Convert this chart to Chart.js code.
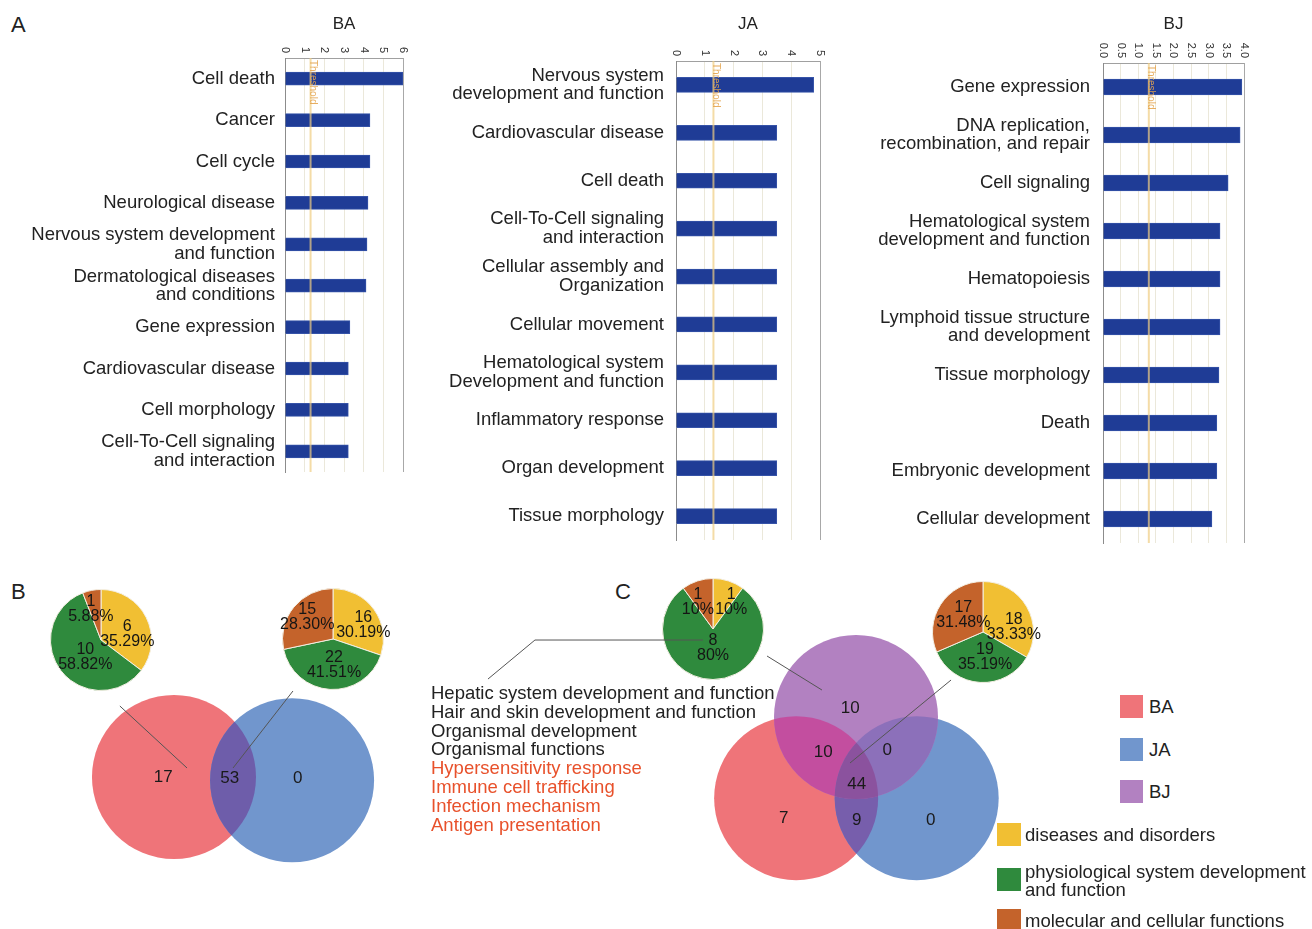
<!DOCTYPE html>
<html>
<head>
<meta charset="utf-8">
<script src="https://cdn.jsdelivr.net/npm/chart.js@4.4.0/dist/chart.umd.min.js"></script>
<style>
  body { margin: 0; background: #fff; font-family: 'Liberation Sans', Arial, sans-serif; color: #222; }
  #page { position: relative; width: 1312px; height: 929px; overflow: hidden; }
  canvas { position: absolute; }
  .letter { position: absolute; font-size: 22px; line-height: 22px; }
  .list { position: absolute; left: 431px; top: 684px; font-size: 18.5px; line-height: 18.8px; white-space: nowrap; }
  .leg { position: absolute; display: flex; align-items: flex-start; font-size: 18.5px; line-height: 18px; white-space: nowrap; }
  .sw { display: inline-block; width: 23px; height: 23px; margin-right: 6px; flex: none; }
</style>
</head>
<body>
<div id="page">
  <div class="letter" style="left:11px;top:14px">A</div>
  <div class="letter" style="left:11px;top:581px">B</div>
  <div class="letter" style="left:615px;top:581px">C</div>

  <canvas id="ba" width="430" height="490" style="left:0;top:0"></canvas>
  <canvas id="ja" width="420" height="560" style="left:430px;top:0"></canvas>
  <canvas id="bj" width="462" height="560" style="left:850px;top:0"></canvas>

  <canvas id="pieB1" width="160" height="120" style="left:21px;top:580px"></canvas>
  <canvas id="pieB2" width="160" height="120" style="left:253px;top:579px"></canvas>
  <canvas id="pieC1" width="160" height="120" style="left:633px;top:569px"></canvas>
  <canvas id="pieC2" width="160" height="120" style="left:903px;top:572px"></canvas>

  <canvas id="vennB" width="310" height="195" style="left:80px;top:685px"></canvas>
  <canvas id="vennC" width="600" height="330" style="left:420px;top:570px"></canvas>

  <div class="list" id="list"></div>
  <div id="legend"></div>
</div>

<script>
const FONT = "'Liberation Sans', Arial, sans-serif";

// Panel A: enrichment scores (-log p) per category
const baLabels = ['Cell death', 'Cancer', 'Cell cycle', 'Neurological disease',
  ['Nervous system development', 'and function'], ['Dermatological diseases', 'and conditions'],
  'Gene expression', 'Cardiovascular disease', 'Cell morphology', ['Cell-To-Cell signaling', 'and interaction']];
const baValues = [6.0, 4.32, 4.32, 4.22, 4.17, 4.12, 3.3, 3.22, 3.22, 3.22];

const jaLabels = [['Nervous system', 'development and function'], 'Cardiovascular disease', 'Cell death',
  ['Cell-To-Cell signaling', 'and interaction'], ['Cellular assembly and', 'Organization'], 'Cellular movement',
  ['Hematological system', 'Development and function'], 'Inflammatory response', 'Organ development', 'Tissue morphology'];
const jaValues = [4.78, 3.5, 3.5, 3.5, 3.5, 3.5, 3.5, 3.5, 3.5, 3.5];

const bjLabels = ['Gene expression', ['DNA replication,', 'recombination, and repair'], 'Cell signaling',
  ['Hematological system', 'development and function'], 'Hematopoiesis', ['Lymphoid tissue structure', 'and development'],
  'Tissue morphology', 'Death', 'Embryonic development', 'Cellular development'];
const bjValues = [3.94, 3.89, 3.55, 3.32, 3.32, 3.32, 3.29, 3.23, 3.23, 3.09];

const threshold = 1.3;

// Panels B and C: category pies
const pieCategories = ['diseases and disorders', 'physiological system development and function', 'molecular and cellular functions'];
const pieColors = ['#f1bf33', '#2f8a3d', '#c4632b'];
const pieB1 = [6, 10, 1];
const pieB2 = [16, 22, 15];
const pieC1 = [1, 8, 1];
const pieC2 = [18, 19, 17];

// Venn counts
const vennSets = ['BA', 'JA', 'BJ'];
const vennColors = ['#ef7479', '#7196cd', '#b281c1'];
const vennBCounts = [17, 53, 0];
const vennCCounts = [10, 10, 0, 44, 7, 9, 0];

const listItems = ['Hepatic system development and function', 'Hair and skin development and function',
  'Organismal development', 'Organismal functions', 'Hypersensitivity response', 'Immune cell trafficking',
  'Infection mechanism', 'Antigen presentation'];
const listHighlighted = [false, false, false, false, true, true, true, true];

// ---------- bar charts ----------
const barDecor = {
  id: 'barDecor',
  afterDatasetsDraw(chart) {
    const { ctx, chartArea: a, scales: { x } } = chart;
    const tx = x.getPixelForValue(threshold);
    ctx.save();
    ctx.strokeStyle = 'rgba(240, 205, 130, 0.7)';
    ctx.lineWidth = 2;
    ctx.beginPath();
    ctx.moveTo(tx, a.top);
    ctx.lineTo(tx, a.bottom);
    ctx.stroke();
    ctx.translate(tx, a.top + 2);
    ctx.rotate(Math.PI / 2);
    ctx.fillStyle = 'rgba(228, 165, 80, 0.9)';
    ctx.font = '10px ' + FONT;
    ctx.textAlign = 'left';
    ctx.textBaseline = 'middle';
    ctx.fillText('Threshold', 0, -2);
    ctx.restore();
  },
  afterDraw(chart, args, o) {
    const { ctx, chartArea: a, scales: { x } } = chart;
    ctx.save();
    // right frame line
    ctx.strokeStyle = '#a8a8a8';
    ctx.lineWidth = 1;
    ctx.beginPath();
    ctx.moveTo(Math.round(a.right) + 0.5, a.top);
    ctx.lineTo(Math.round(a.right) + 0.5, a.bottom);
    ctx.stroke();
    // title
    ctx.fillStyle = '#222';
    ctx.font = '17px ' + FONT;
    ctx.textAlign = 'center';
    ctx.textBaseline = 'middle';
    ctx.fillText(o.title, (a.left + a.right) / 2, o.titleY);
    // rotated tick labels, reading top to bottom
    ctx.font = '11px ' + FONT;
    ctx.fillStyle = '#333';
    x.ticks.forEach(t => {
      const px = x.getPixelForValue(t.value);
      ctx.save();
      ctx.translate(px, a.top - 5);
      ctx.rotate(Math.PI / 2);
      ctx.textAlign = 'right';
      ctx.textBaseline = 'middle';
      ctx.fillText(t.value.toFixed(o.decimals), 0, 0);
      ctx.restore();
    });
    ctx.restore();
  }
};

function barChart(id, title, labels, values, g) {
  return new Chart(document.getElementById(id), {
    type: 'bar',
    data: {
      labels: labels,
      datasets: [{
        data: values,
        backgroundColor: '#1f3c96',
        borderColor: '#3653a8',
        borderWidth: 1,
        barThickness: g.bar
      }]
    },
    options: {
      indexAxis: 'y',
      responsive: false,
      animation: false,
      layout: { padding: { top: 0, left: 0, right: g.right, bottom: g.bottom } },
      plugins: {
        legend: { display: false },
        tooltip: { enabled: false },
        barDecor: { title: title, titleY: 24, decimals: g.decimals }
      },
      scales: {
        x: {
          position: 'top',
          min: 0,
          max: g.max,
          ticks: { display: false, stepSize: g.step },
          grid: { color: '#ebe8da', drawTicks: false },
          border: { color: '#a0a0a0' },
          afterFit: s => { s.height = g.top; s.paddingLeft = 0; s.paddingRight = 0; }
        },
        y: {
          ticks: { font: { family: FONT, size: 18.5, lineHeight: 1 }, color: '#222', padding: g.gap, autoSkip: false },
          grid: { display: false, drawTicks: false },
          border: { color: '#8c8c8c' },
          afterFit: s => { s.width = g.left; s.paddingTop = 0; s.paddingBottom = 0; }
        }
      }
    },
    plugins: [barDecor]
  });
}

barChart('ba', 'BA', baLabels, baValues, { left: 285, top: 58, right: 27, bottom: 18, bar: 13, max: 6, step: 1, decimals: 0, gap: 10 });
barChart('ja', 'JA', jaLabels, jaValues, { left: 246, top: 61, right: 30, bottom: 20, bar: 15, max: 5, step: 1, decimals: 0, gap: 12 });
barChart('bj', 'BJ', bjLabels, bjValues, { left: 253, top: 63, right: 68, bottom: 17, bar: 16, max: 4, step: 0.5, decimals: 1, gap: 13 });

// ---------- pies ----------
// label anchors relative to the pie centre, in units of the radius
const pieLabels = {
  id: 'pieLabels',
  afterDatasetsDraw(chart, args, o) {
    const ctx = chart.ctx;
    const data = chart.data.datasets[0].data;
    const total = data.reduce((s, v) => s + v, 0);
    ctx.save();
    ctx.font = '16px ' + FONT;
    ctx.fillStyle = '#151515';
    ctx.textAlign = 'center';
    ctx.textBaseline = 'middle';
    chart.getDatasetMeta(0).data.forEach((arc, i) => {
      const p = arc.getProps(['x', 'y', 'outerRadius'], true);
      const cx = p.x + o.offsets[i][0] * p.outerRadius;
      const cy = p.y + o.offsets[i][1] * p.outerRadius;
      const pct = Math.round(data[i] / total * 10000) / 100;
      const txt = (pct % 1 === 0 ? pct.toFixed(0) : pct.toFixed(2)) + '%';
      ctx.fillText(String(data[i]), cx, cy - 7.5);
      ctx.fillText(txt, cx, cy + 7.5);
    });
    ctx.restore();
  }
};

function pieChart(id, counts, offsets) {
  return new Chart(document.getElementById(id), {
    type: 'pie',
    data: {
      labels: pieCategories,
      datasets: [{ data: counts, backgroundColor: pieColors, borderColor: '#f3eee2', borderWidth: 1 }]
    },
    options: {
      responsive: false,
      animation: false,
      layout: { padding: { left: 29, right: 29, top: 9, bottom: 9 } },
      plugins: { legend: { display: false }, tooltip: { enabled: false }, pieLabels: { offsets: offsets } }
    },
    plugins: [pieLabels]
  });
}

pieChart('pieB1', pieB1, [[0.52, -0.11], [-0.31, 0.34], [-0.2, -0.62]]);
pieChart('pieB2', pieB2, [[0.6, -0.27], [0.02, 0.51], [-0.51, -0.43]]);
pieChart('pieC1', pieC1, [[0.36, -0.54], [0, 0.38], [-0.3, -0.54]]);
pieChart('pieC2', pieC2, [[0.61, -0.1], [0.04, 0.49], [-0.39, -0.33]]);

// ---------- venn diagrams (units = one circle radius) ----------
const vennDraw = {
  id: 'vennDraw',
  afterDatasetsDraw(chart, args, o) {
    const { ctx, scales: { x, y } } = chart;
    const px = p => [x.getPixelForValue(p[0]), y.getPixelForValue(p[1])];
    const rad = x.getPixelForValue(1) - x.getPixelForValue(0);
    const circle = c => {
      const [cx, cy] = px(c);
      ctx.beginPath();
      ctx.arc(cx, cy, rad, 0, Math.PI * 2);
    };
    ctx.save();
    o.centers.forEach((c, i) => {
      circle(c);
      ctx.fillStyle = o.colors[i];
      ctx.fill();
    });
    o.overlaps.forEach(ov => {
      ctx.save();
      ov.sets.slice(0, -1).forEach(k => { circle(o.centers[k]); ctx.clip(); });
      circle(o.centers[ov.sets[ov.sets.length - 1]]);
      ctx.fillStyle = ov.color;
      ctx.fill();
      ctx.restore();
    });
    ctx.strokeStyle = '#555';
    ctx.lineWidth = 1;
    o.lines.forEach(line => {
      ctx.beginPath();
      line.forEach((p, i) => {
        const [lx, ly] = px(p);
        if (i === 0) ctx.moveTo(lx, ly); else ctx.lineTo(lx, ly);
      });
      ctx.stroke();
    });
    ctx.font = '17px ' + FONT;
    ctx.fillStyle = '#1a1a1a';
    ctx.textAlign = 'center';
    ctx.textBaseline = 'middle';
    chart.getDatasetMeta(0).data.forEach((pt, i) => {
      ctx.fillText(String(o.counts[i]), pt.x, pt.y);
    });
    ctx.restore();
  }
};

function vennChart(id, counts, lay) {
  return new Chart(document.getElementById(id), {
    type: 'scatter',
    data: { datasets: [{ data: lay.anchors.map(p => ({ x: p[0], y: p[1] })), pointRadius: 0 }] },
    options: {
      responsive: false,
      animation: false,
      layout: { padding: 0 },
      plugins: {
        legend: { display: false },
        tooltip: { enabled: false },
        vennDraw: { centers: lay.centers, colors: lay.colors, overlaps: lay.overlaps, lines: lay.lines, counts: counts }
      },
      scales: {
        x: { display: false, min: lay.xr[0], max: lay.xr[1] },
        y: { display: false, min: lay.yr[0], max: lay.yr[1] }
      }
    },
    plugins: [vennDraw]
  });
}

vennChart('vennB', vennBCounts, {
  xr: [-1.146, 2.634], yr: [-1.256, 1.122],
  centers: [[0, 0], [1.44, -0.04]],
  colors: [vennColors[0], vennColors[1]],
  overlaps: [{ sets: [0, 1], color: '#6e5daa' }],
  anchors: [[-0.13, 0], [0.68, -0.01], [1.51, -0.01]],
  lines: [[[-0.66, 0.866], [0.159, 0.11]], [[1.451, 1.049], [0.72, 0.11]]]
});

vennChart('vennC', vennCCounts, {
  xr: [-5.317, 2.0], yr: [-2.232, 1.793],
  centers: [[-0.73, -0.99], [0.74, -0.99], [0, 0]],
  colors: vennColors,
  overlaps: [
    { sets: [0, 1], color: '#775eac' },
    { sets: [0, 2], color: '#c34e9f' },
    { sets: [1, 2], color: '#8c70ba' },
    { sets: [0, 1, 2], color: '#8b529e' }
  ],
  anchors: [[-0.07, 0.1], [-0.4, -0.43], [0.38, -0.41], [0.01, -0.82], [-0.88, -1.24], [0.01, -1.26], [0.91, -1.26]],
  lines: [
    [[-1.866, 0.939], [-3.915, 0.939], [-4.488, 0.463]],
    [[-1.085, 0.744], [-0.415, 0.329]],
    [[1.159, 0.451], [-0.073, -0.561]]
  ]
});

// ---------- text list and legends ----------
document.getElementById('list').innerHTML = listItems.map((t, i) =>
  '<div style="color:' + (listHighlighted[i] ? '#e8512b' : '#222') + '">' + t + '</div>').join('');

const legend = document.getElementById('legend');
const setTops = [695, 738, 780];
vennSets.forEach((s, i) => {
  legend.innerHTML += '<div class="leg" style="left:1120px;top:' + setTops[i] + 'px;line-height:23px">' +
    '<span class="sw" style="background:' + vennColors[i] + '"></span>' + s + '</div>';
});
const catTops = [823, 868, 909];
const catText = ['diseases and disorders', 'physiological system development<br>and function', 'molecular and cellular functions'];
pieCategories.forEach((c, i) => {
  legend.innerHTML += '<div class="leg" style="left:997px;top:' + (catTops[i] - (i === 1 ? 5 : 0)) + 'px;line-height:' + (i === 1 ? 18 : 23) + 'px">' +
    '<span class="sw" style="width:24px;margin-right:4px;margin-top:' + (i === 1 ? 5 : 0) + 'px;background:' + pieColors[i] + '"></span><span>' + catText[i] + '</span></div>';
});
</script>
</body>
</html>
